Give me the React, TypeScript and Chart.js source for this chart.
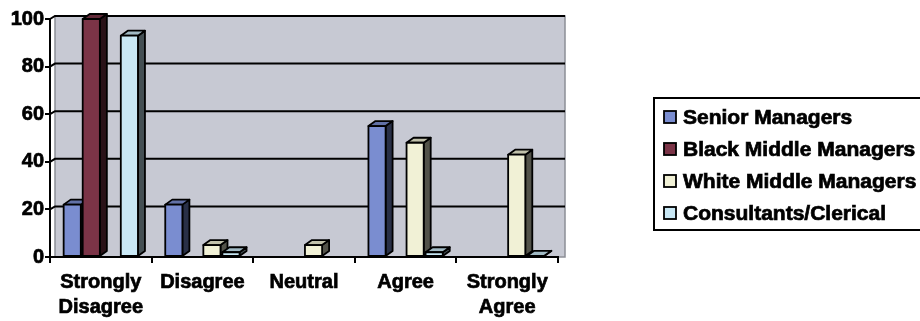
import React, { useEffect, useRef } from 'react';
import { Chart, registerables } from 'chart.js';

Chart.register(...registerables);

// Response categories along the x axis
const categories: (string | string[])[] = [
  ['Strongly', 'Disagree'],
  'Disagree',
  'Neutral',
  'Agree',
  ['Strongly', 'Agree'],
];

// Percentage of each group giving each response
const seriesNames = [
  'Senior Managers',
  'Black Middle Managers',
  'White Middle Managers',
  'Consultants/Clerical',
];
const seniorManagers = [22, 22, 0, 55, 0];
const blackMiddleManagers = [100, 0, 0, 0, 0];
const whiteMiddleManagers = [0, 5, 5, 48, 43];
const consultantsClerical = [93, 2, 0, 2, 0.5];
const seriesColors = ['#7a8dd0', '#7b3447', '#f1f1d6', '#c9e8f5'];

const yMin = 0;
const yMax = 100;
const yStep = 20;

const FONT = '"Liberation Sans", Arial, sans-serif';
const DEPTH_X = 7;
const DEPTH_Y = 5;

function shade(hex: string, f: number): string {
  const n = parseInt(hex.slice(1), 16);
  const r = Math.round(((n >> 16) & 255) * f);
  const g = Math.round(((n >> 8) & 255) * f);
  const b = Math.round((n & 255) * f);
  return `rgb(${r},${g},${b})`;
}

// Grey back wall with its gridlines, drawn before the axes
const wallPlugin = {
  id: 'wall3d',
  beforeDraw(chart: any) {
    const { ctx, chartArea: a, scales } = chart;
    const y = scales.y;
    ctx.save();
    const left = a.left + 5;
    const top = a.top - 3;
    const right = a.right + DEPTH_X;
    ctx.fillStyle = '#c7c9d3';
    ctx.fillRect(left, top, right - left, a.bottom - top);
    ctx.strokeStyle = '#8c8e96';
    ctx.lineWidth = 1.5;
    ctx.strokeRect(left, top, right - left, a.bottom - top);
    ctx.strokeStyle = '#000';
    ctx.lineWidth = 2;
    for (const t of y.ticks) {
      if (t.value === yMin) continue;
      const py = y.getPixelForValue(t.value) - 3;
      ctx.beginPath();
      ctx.moveTo(a.left, py + 3);
      ctx.lineTo(left, py);
      ctx.lineTo(right, py);
      ctx.stroke();
    }
    ctx.restore();
  },
};

// Extruded columns drawn from the bar elements, plus the boxed legend
const columnsPlugin = {
  id: 'columns3d',
  beforeDatasetsDraw() {
    return false;
  },
  afterDraw(chart: any) {
    const { ctx } = chart;
    const items: any[] = [];
    chart.data.datasets.forEach((ds: any, i: number) => {
      const meta = chart.getDatasetMeta(i);
      meta.data.forEach((el: any, j: number) => {
        const v = ds.data[j];
        if (!v) return;
        const p = el.getProps(['x', 'y', 'base', 'width'], true);
        items.push({ ...p, color: ds.backgroundColor });
      });
    });
    items.sort((a, b) => a.x - b.x);
    ctx.save();
    ctx.lineJoin = 'round';
    ctx.strokeStyle = '#000';
    ctx.lineWidth = 1.8;
    for (const it of items) {
      const l = it.x - it.width / 2;
      const r = it.x + it.width / 2;
      const t = Math.min(it.y, it.base);
      const b = Math.max(it.y, it.base);
      // side face
      ctx.beginPath();
      ctx.moveTo(r, t);
      ctx.lineTo(r + DEPTH_X, t - DEPTH_Y);
      ctx.lineTo(r + DEPTH_X, b - DEPTH_Y);
      ctx.lineTo(r, b);
      ctx.closePath();
      ctx.fillStyle = shade(it.color, 0.34);
      ctx.fill();
      ctx.stroke();
      // top face
      ctx.beginPath();
      ctx.moveTo(l, t);
      ctx.lineTo(l + DEPTH_X, t - DEPTH_Y);
      ctx.lineTo(r + DEPTH_X, t - DEPTH_Y);
      ctx.lineTo(r, t);
      ctx.closePath();
      ctx.fillStyle = shade(it.color, 0.8);
      ctx.fill();
      ctx.stroke();
      // front face
      ctx.fillStyle = it.color;
      ctx.fillRect(l, t, r - l, b - t);
      ctx.strokeRect(l, t, r - l, b - t);
    }
    ctx.restore();

    // legend
    ctx.save();
    ctx.strokeStyle = '#000';
    ctx.lineWidth = 2;
    ctx.strokeRect(654, 98, 280, 132);
    ctx.font = `bold 20px ${FONT}`;
    ctx.textBaseline = 'middle';
    ctx.textAlign = 'left';
    chart.data.datasets.forEach((ds: any, i: number) => {
      const cy = 117 + i * 32;
      ctx.fillStyle = ds.backgroundColor;
      ctx.fillRect(664, cy - 6, 12, 12);
      ctx.lineWidth = 1.8;
      ctx.strokeStyle = '#000';
      ctx.strokeRect(664, cy - 6, 12, 12);
      ctx.save();
      ctx.translate(683, cy + 1);
      ctx.scale(1.05, 1);
      ctx.fillStyle = '#000';
      ctx.lineWidth = 0.7;
      ctx.fillText(ds.label, 0, 0);
      ctx.strokeText(ds.label, 0, 0);
      ctx.restore();
    });
    ctx.restore();
  },
};

export default function App() {
  const ref = useRef<HTMLCanvasElement | null>(null);

  useEffect(() => {
    if (!ref.current) return;
    const values = [seniorManagers, blackMiddleManagers, whiteMiddleManagers, consultantsClerical];
    const chart = new Chart(ref.current, {
      type: 'bar',
      data: {
        labels: categories,
        datasets: values.map((d, i) => ({
          label: seriesNames[i],
          data: d,
          backgroundColor: seriesColors[i],
          borderWidth: 0,
          categoryPercentage: 0.75,
          barPercentage: 0.9,
        })),
      },
      options: {
        responsive: false,
        animation: false,
        devicePixelRatio: 1,
        layout: { padding: { left: 0, right: 362, top: 19, bottom: 0 } },
        plugins: {
          legend: { display: false },
          tooltip: { enabled: false },
        },
        scales: {
          x: {
            afterFit: (s: any) => {
              s.height = 64;
            },
            grid: {
              offset: true,
              drawOnChartArea: false,
              drawTicks: true,
              tickLength: 6,
              color: '#000',
              lineWidth: 2,
            },
            border: { display: true, color: '#000', width: 2 },
            ticks: {
              color: '#000',
              font: { family: FONT, size: 20, weight: 'bold', lineHeight: 1.25 },
              padding: 7,
              maxRotation: 0,
              autoSkip: false,
              textStrokeColor: '#000',
              textStrokeWidth: 0.7,
            },
          },
          y: {
            min: yMin,
            max: yMax,
            afterFit: (s: any) => {
              s.width = 50;
            },
            grid: {
              drawOnChartArea: false,
              drawTicks: true,
              tickLength: 5,
              color: '#000',
              lineWidth: 2,
            },
            border: { display: true, color: '#000', width: 2 },
            ticks: {
              stepSize: yStep,
              color: '#000',
              font: { family: FONT, size: 20, weight: 'bold' },
              padding: 1,
              textStrokeColor: '#000',
              textStrokeWidth: 0.7,
            },
          },
        },
      },
      plugins: [wallPlugin, columnsPlugin],
    });
    return () => chart.destroy();
  }, []);

  return (
    <div style={{ position: 'fixed', left: 0, top: 0, width: 920, height: 321, background: '#fff' }}>
      <canvas ref={ref} width={920} height={321} style={{ display: 'block', width: 920, height: 321 }} />
    </div>
  );
}
